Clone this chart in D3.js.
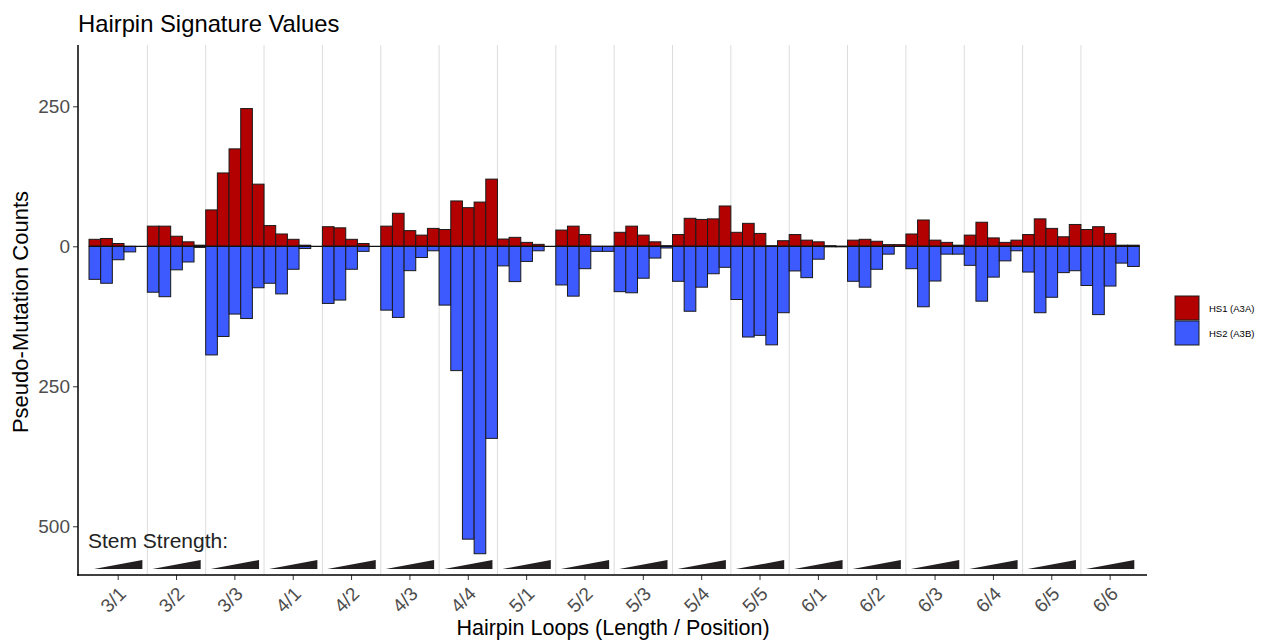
<!DOCTYPE html>
<html>

<head>
    <title>Hairpin Signature Values</title>
    <script src="https://d3js.org/d3.v7.min.js"></script>
    <style>
        body { margin: 0; background: #fff; }
        text { font-family: "Liberation Sans", Arial, sans-serif; }
    </style>
</head>

<body>
    <script>
        // hairpin loop groups (length / position), 5 stem-strength bins each
        const loops = ["3/1", "3/2", "3/3", "4/1", "4/2", "4/3", "4/4", "5/1", "5/2",
            "5/3", "5/4", "5/5", "6/1", "6/2", "6/3", "6/4", "6/5", "6/6"];
        const bins = [0, 1, 2, 3, 4];

        // HS1 (A3A), drawn upward
        const hs1 = [
            [12.5, 14, 5, 0, 0],
            [36, 36, 18, 8, 2],
            [65, 131, 174, 246, 111],
            [37, 22, 12.5, 2, 0],
            [35, 33, 12.5, 5, 0],
            [36, 59, 28, 20, 32],
            [30, 81, 69, 79, 120],
            [13, 16, 7, 3.5, 0],
            [29, 36, 21, 0, 0],
            [25, 36, 20, 8, 1],
            [21, 50, 48, 49, 72],
            [25, 41, 23, 1, 10],
            [21, 11, 8, 1, 0],
            [11, 12.5, 9, 3, 3],
            [22, 47, 11, 7, 2],
            [20, 43, 15, 7, 11],
            [21, 49, 32, 17, 39],
            [30, 35, 23, 2, 2]
        ];

        // HS2 (A3B), drawn downward
        const hs2 = [
            [59, 66, 24, 10, 0],
            [82, 90, 42, 28, 2],
            [194, 161, 121, 129, 74],
            [66, 85, 41, 4, 0],
            [102, 96, 41, 9, 0],
            [114, 127, 43.5, 20, 8],
            [105, 222, 523, 549, 343],
            [35, 63, 27, 8, 0],
            [69, 89, 40, 9, 9],
            [81, 83, 57, 21, 3],
            [62.5, 116, 73, 49, 37.5],
            [95, 162, 159, 176, 118.6],
            [44, 56, 23, 1, 1],
            [62.5, 73, 41, 14, 0],
            [40, 108, 62, 14, 14],
            [34, 98, 55, 26, 8],
            [46, 118.6, 91, 47, 43.6],
            [70, 122, 71, 30, 36]
        ];

        const yTicks = [250, 0, -250, -500];
        const seriesNames = ["HS1 (A3A)", "HS2 (A3B)"];
        const seriesColors = ["#b30000", "#3d5afe"];

        const width = 1273;
        const height = 641;
        const panel = { left: 78, right: 1147, top: 45, bottom: 575 };

        const svg = d3.select("body").append("svg")
            .attr("width", width)
            .attr("height", height);

        const x = d3.scaleBand()
            .domain(loops)
            .range([89, 1139.3])
            .padding(0);

        const xInner = d3.scaleBand()
            .domain(bins)
            .range([0, x.bandwidth()]);

        const y = d3.scaleLinear()
            .domain([-587, 359.5])
            .range([panel.bottom, panel.top]);

        // vertical separators between loop groups
        svg.append("g")
            .selectAll("line")
            .data(loops.slice(1))
            .enter().append("line")
            .attr("x1", d => x(d))
            .attr("x2", d => x(d))
            .attr("y1", panel.top)
            .attr("y2", panel.bottom)
            .style("stroke", "#dcdcdc")
            .style("stroke-width", 1);

        // flatten to bars
        const bars = [];
        loops.forEach((loop, i) => {
            bins.forEach(b => {
                bars.push({ loop, bin: b, series: 0, value: hs1[i][b] });
                bars.push({ loop, bin: b, series: 1, value: -hs2[i][b] });
            });
        });

        svg.append("g")
            .selectAll("rect")
            .data(bars.filter(d => d.value !== 0))
            .enter().append("rect")
            .attr("x", d => x(d.loop) + xInner(d.bin))
            .attr("width", xInner.bandwidth())
            .attr("y", d => y(Math.max(0, d.value)))
            .attr("height", d => Math.abs(y(d.value) - y(0)))
            .style("fill", d => seriesColors[d.series])
            .style("stroke", "#1a1a1a")
            .style("stroke-width", 1);

        // zero baseline
        svg.append("line")
            .attr("x1", x.range()[0])
            .attr("x2", x.range()[1])
            .attr("y1", y(0))
            .attr("y2", y(0))
            .style("stroke", "#111")
            .style("stroke-width", 1.2);

        // stem strength wedges
        svg.append("g")
            .selectAll("path")
            .data(loops)
            .enter().append("path")
            .attr("d", d => {
                const x0 = x(d) + 5, x1 = x(d) + x.bandwidth() - 5;
                return `M${x0},569L${x1},569L${x1},560Z`;
            })
            .style("fill", "#231f20");

        svg.append("text")
            .attr("x", 88)
            .attr("y", 548)
            .style("font-size", "21px")
            .style("fill", "#222")
            .text("Stem Strength:");

        // axes
        const yAxis = svg.append("g")
            .attr("transform", `translate(${panel.left},0)`)
            .call(d3.axisLeft(y).tickValues(yTicks).tickSize(5).tickPadding(3)
                .tickFormat(d => Math.abs(d)));
        yAxis.select(".domain").remove();
        yAxis.selectAll("text")
            .style("font-size", "19px")
            .style("fill", "#4d4d4d")
            .style("font-family", "Liberation Sans, Arial, sans-serif");
        yAxis.selectAll("line").style("stroke", "#333");

        const xAxis = svg.append("g")
            .attr("transform", `translate(0,${panel.bottom})`)
            .call(d3.axisBottom(x).tickSize(5).tickSizeOuter(0));
        xAxis.select(".domain").remove();
        xAxis.selectAll("line").style("stroke", "#333");
        xAxis.selectAll("text")
            .attr("text-anchor", "end")
            .attr("x", 0)
            .attr("y", 0)
            .attr("dy", 0)
            .attr("transform", "translate(9,20) rotate(-45)")
            .style("font-size", "19px")
            .style("fill", "#4d4d4d")
            .style("font-family", "Liberation Sans, Arial, sans-serif");

        svg.append("line")
            .attr("x1", panel.left).attr("x2", panel.left)
            .attr("y1", panel.top).attr("y2", panel.bottom + 0.75)
            .style("stroke", "#000").style("stroke-width", 1.5);
        svg.append("line")
            .attr("x1", panel.left - 0.75).attr("x2", panel.right)
            .attr("y1", panel.bottom).attr("y2", panel.bottom)
            .style("stroke", "#000").style("stroke-width", 1.5);

        // titles
        svg.append("text")
            .attr("x", 78)
            .attr("y", 32)
            .style("font-size", "23.8px")
            .style("fill", "#000")
            .text("Hairpin Signature Values");

        svg.append("text")
            .attr("text-anchor", "middle")
            .attr("transform", "translate(28,312) rotate(-90)")
            .style("font-size", "22px")
            .style("fill", "#000")
            .text("Pseudo-Mutation Counts");

        svg.append("text")
            .attr("text-anchor", "middle")
            .attr("x", 613)
            .attr("y", 635)
            .style("font-size", "21.5px")
            .style("fill", "#000")
            .text("Hairpin Loops (Length / Position)");

        // legend
        const legend = svg.append("g")
            .attr("transform", "translate(1175,296)");
        const item = legend.selectAll("g")
            .data(seriesNames)
            .enter().append("g")
            .attr("transform", (d, i) => `translate(0,${i * 25})`);
        item.append("rect")
            .attr("width", 24)
            .attr("height", 24)
            .style("fill", (d, i) => seriesColors[i])
            .style("stroke", "#1a1a1a")
            .style("stroke-width", 1);
        item.append("text")
            .attr("x", 34)
            .attr("y", 16)
            .style("font-size", "9.5px")
            .style("fill", "#000")
            .text(d => d);
    </script>
</body>

</html>
